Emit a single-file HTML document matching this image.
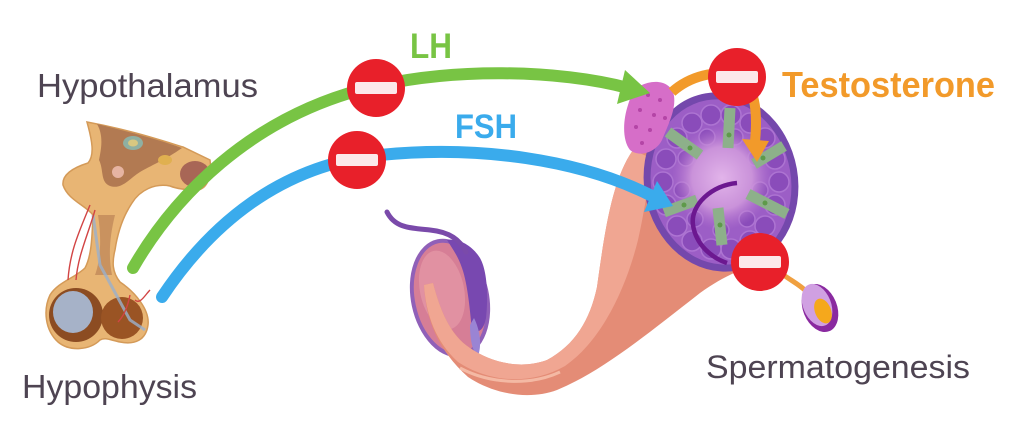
<!DOCTYPE html>
<html><head><meta charset="utf-8"><style>
html,body{margin:0;padding:0;background:#fff;}
svg{display:block;}
text{font-family:"Liberation Sans",sans-serif;}
</style></head><body>
<svg width="1024" height="421" viewBox="0 0 1024 421" xmlns="http://www.w3.org/2000/svg">
<defs>
<radialGradient id="cg" cx="0.5" cy="0.5" r="0.5">
<stop offset="0" stop-color="#e2b4ea"/><stop offset="0.6" stop-color="#cf98dc" stop-opacity="0.9"/><stop offset="1" stop-color="#b878d0" stop-opacity="0"/>
</radialGradient>
</defs>
<rect width="1024" height="421" fill="#fff"/>

<!-- Pituitary -->
<path d="M87 122 C130 130,160 140,183 147 L210 160 C212 175,208 188,198 190 C185 190,175 188,170 186 C155 183,140 190,132 203 C124 215,118 230,115 250 C112 262,112 272,120 282 C135 292,150 310,148 325 C146 340,135 345,120 342 C110 340,105 337,100 340 C90 350,70 352,58 342 C45 330,43 310,50 295 C58 282,75 278,85 268 C92 255,92 235,93 215 C85 205,68 200,63 185 C62 175,72 168,88 163 C95 155,92 140,87 122 Z" fill="#e8b574" stroke="#d49a58" stroke-width="1.5"/>
<path d="M97 124 C130 132,160 140,182 148 C165 160,150 166,140 172 C130 178,122 190,110 186 C100 182,104 170,99 160 C101 150,104 136,97 124 Z" fill="#b27a52"/>
<ellipse cx="195" cy="174" rx="15" ry="13" fill="#a86656"/>
<ellipse cx="133" cy="143" rx="10" ry="7" fill="#8fb0a2"/>
<ellipse cx="133" cy="143" rx="5" ry="3.5" fill="#d8c880"/>
<circle cx="118" cy="172" r="6" fill="#e6b4a2"/>
<ellipse cx="165" cy="160" rx="7" ry="5" fill="#e0b050"/>
<path d="M98 215 C102 240,100 262,95 275 L112 275 C108 255,110 235,115 215 Z" fill="#c08a5a" opacity="0.8"/>
<ellipse cx="76" cy="315" rx="27" ry="27" fill="#8c4c22"/>
<ellipse cx="122" cy="318" rx="21" ry="21" fill="#9a5424"/>
<ellipse cx="73" cy="312" rx="20" ry="21" fill="#a6b2c8"/>
<path d="M93 215 L100 265 L130 320 L145 330" stroke="#9ab0cc" stroke-width="3" fill="none" opacity="0.8"/>
<path d="M90 205 C80 230,70 250,68 280 M95 210 C88 235,78 255,76 280 M130 295 C128 305,125 315,118 322 M135 300 C140 305,145 295,150 290" stroke="#d24444" stroke-width="1.4" fill="none"/>

<!-- Oval testis bottom -->
<ellipse cx="450" cy="298" rx="37" ry="58" transform="rotate(-12 450 298)" fill="#d67e96" stroke="#9060b8" stroke-width="4"/>
<ellipse cx="442" cy="290" rx="22" ry="40" transform="rotate(-12 442 290)" fill="#e59aa6" opacity="0.7"/>
<path d="M447 240 C458 238,472 245,480 258 C488 272,488 300,486 318 C484 330,478 334,472 330 C470 312,468 285,462 268 C458 256,452 248,447 240 Z" fill="#7848b0"/>
<path d="M474 318 C480 330,482 345,478 356 C472 352,470 338,470 325 Z" fill="#9a84d4"/>
<path d="M387 212 C395 228,410 228,430 230 C450 232,460 240,466 252" stroke="#7a4aaa" stroke-width="5" fill="none" stroke-linecap="round"/>

<!-- Funnel / tube -->
<path d="M633 150 C612 180,605 230,597 287 C590 320,575 345,547 360 C520 370,490 362,470 348 C450 335,440 310,433 283 L424 285 C426 320,438 350,468 377 C495 395,530 400,557 390 C600 372,640 340,700 293 C725 275,745 268,762 262 L720 160 Z" fill="#e48c76"/>
<path d="M633 150 C612 180,605 230,597 287 C590 320,575 345,547 360 C520 370,490 362,470 348 C450 335,440 310,433 283 L424 285 C426 315,436 342,458 362 C488 382,530 386,565 366 C600 342,625 292,638 240 C645 210,648 180,655 160 Z" fill="#f0a692"/>
<path d="M460 368 C490 384,530 386,560 372" stroke="#f8c4b0" stroke-width="3" fill="none" opacity="0.8"/>

<!-- Big testis cross-section -->
<ellipse cx="721" cy="182" rx="77" ry="90" transform="rotate(-10 721 182)" fill="#7448ac"/>
<ellipse cx="721" cy="182" rx="70" ry="83" transform="rotate(-10 721 182)" fill="#9c5ec6"/>
<g fill="#8a4cba" stroke="#ad74d2" stroke-width="1.5">
<circle cx="779" cy="182" r="10"/><circle cx="775" cy="205" r="10"/><circle cx="765" cy="226" r="10"/><circle cx="750" cy="241" r="10"/><circle cx="731" cy="249" r="10"/><circle cx="711" cy="249" r="10"/><circle cx="692" cy="241" r="10"/><circle cx="677" cy="226" r="10"/><circle cx="666" cy="205" r="10"/><circle cx="663" cy="182" r="10"/><circle cx="666" cy="159" r="10"/><circle cx="677" cy="138" r="10"/><circle cx="692" cy="123" r="10"/><circle cx="711" cy="115" r="10"/><circle cx="731" cy="115" r="10"/><circle cx="750" cy="123" r="10"/><circle cx="765" cy="138" r="10"/><circle cx="775" cy="159" r="10"/>
<circle cx="760" cy="190" r="8"/><circle cx="747" cy="219" r="8"/><circle cx="721" cy="230" r="8"/><circle cx="695" cy="219" r="8"/><circle cx="682" cy="190" r="8"/><circle cx="686" cy="158" r="8"/><circle cx="707" cy="137" r="8"/><circle cx="735" cy="137" r="8"/><circle cx="756" cy="158" r="8"/>
</g>
<ellipse cx="722" cy="178" rx="50" ry="52" fill="url(#cg)"/>
<g stroke="#8db08a" stroke-width="11">
<line x1="668" y1="132" x2="700" y2="155"/>
<line x1="730" y1="108" x2="728" y2="148"/>
<line x1="784" y1="146" x2="754" y2="164"/>
<line x1="787" y1="214" x2="748" y2="194"/>
<line x1="722" y1="245" x2="718" y2="208"/>
<line x1="664" y1="212" x2="697" y2="200"/>
</g>
<g fill="#5e9a4a"><circle cx="690" cy="148" r="2.5"/><circle cx="729" cy="135" r="2.5"/><circle cx="763" cy="158" r="2.5"/><circle cx="765" cy="203" r="2.5"/><circle cx="720" cy="225" r="2.5"/><circle cx="684" cy="205" r="2.5"/></g>
<path d="M737 183 C712 185,690 205,693 225 C696 245,712 258,727 263" stroke="#6c1890" stroke-width="4.5" fill="none"/>

<!-- Pink Leydig cluster -->
<path d="M640 86 C655 78,672 82,674 96 C676 110,668 125,662 140 C656 152,640 158,630 150 C622 140,623 120,628 105 C631 95,634 89,640 86 Z" fill="#d66ec8"/>
<g fill="#b445a6"><circle cx="648" cy="95" r="2"/><circle cx="660" cy="100" r="2"/><circle cx="640" cy="110" r="2"/><circle cx="654" cy="115" r="2"/><circle cx="665" cy="118" r="2"/><circle cx="636" cy="127" r="2"/><circle cx="650" cy="130" r="2"/><circle cx="642" cy="143" r="2"/></g>

<!-- Arrows -->
<path d="M133 268 C175 195,250 120,360 90 C450 66,560 70,628 88" stroke="#78c444" stroke-width="12" fill="none" stroke-linecap="round"/>
<polygon points="625,70 650,93 617,104" fill="#78c444"/>
<path d="M162 297 C210 225,280 165,380 155 C480 145,580 160,650 195" stroke="#3aabec" stroke-width="12" fill="none" stroke-linecap="round"/>
<polygon points="657,181 673,206 644,212" fill="#3aabec"/>
<path d="M672 92 C690 76,715 70,737 75 C755 85,758 110,755 142" stroke="#f29a2a" stroke-width="10" fill="none"/>
<polygon points="742,139 769,141 757,162" fill="#f29a2a"/>

<!-- Sperm -->
<path d="M785 276 C792 281,800 285,807 292" stroke="#f0a040" stroke-width="5" fill="none" stroke-linecap="round"/>
<ellipse cx="820" cy="308" rx="17" ry="25" transform="rotate(-22 820 308)" fill="#8a2aa0"/>
<ellipse cx="817" cy="305" rx="14" ry="22" transform="rotate(-22 817 305)" fill="#d0a0e2"/>
<ellipse cx="823" cy="311" rx="8" ry="13" transform="rotate(-22 823 311)" fill="#f5a81c"/>

<!-- Stop signs -->
<g>
<circle cx="376" cy="88" r="29" fill="#e8202a"/><rect x="355" y="82" width="42" height="12" rx="2" fill="#fce8ea"/>
<circle cx="357" cy="160" r="29" fill="#e8202a"/><rect x="336" y="154" width="42" height="12" rx="2" fill="#fce8ea"/>
<circle cx="737" cy="77" r="29" fill="#e8202a"/><rect x="716" y="71" width="42" height="12" rx="2" fill="#fce8ea"/>
<circle cx="760" cy="262" r="29" fill="#e8202a"/><rect x="739" y="256" width="42" height="12" rx="2" fill="#fce8ea"/>
</g>

<!-- Labels -->
<text x="37" y="97" font-size="33" fill="#4e4452" textLength="221" lengthAdjust="spacingAndGlyphs">Hypothalamus</text>
<text x="22" y="398" font-size="33" fill="#4e4452" textLength="175" lengthAdjust="spacingAndGlyphs">Hypophysis</text>
<text x="706" y="378" font-size="32" fill="#4e4452" textLength="264" lengthAdjust="spacingAndGlyphs">Spermatogenesis</text>
<text x="410" y="58" font-size="35" font-weight="bold" fill="#78c444" textLength="42" lengthAdjust="spacingAndGlyphs">LH</text>
<text x="455" y="138" font-size="34" font-weight="bold" fill="#3aabec" textLength="62" lengthAdjust="spacingAndGlyphs">FSH</text>
<text x="782" y="97" font-size="36" font-weight="bold" fill="#f29a2a" textLength="213" lengthAdjust="spacingAndGlyphs">Testosterone</text>
</svg>
</body></html>
